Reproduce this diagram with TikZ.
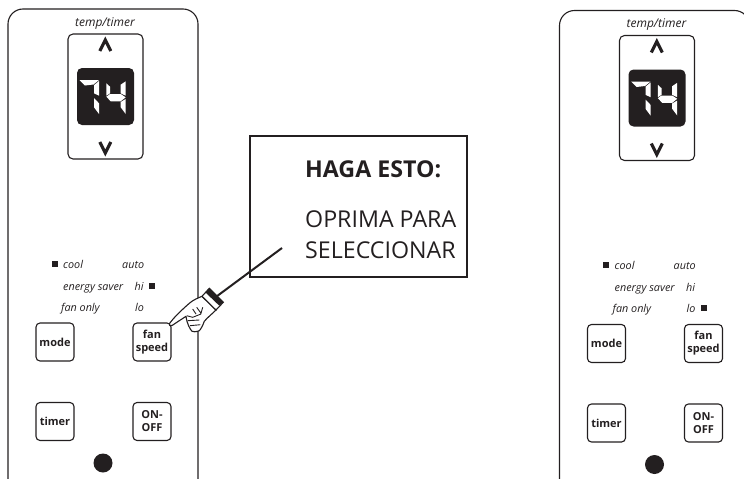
\documentclass[tikz,border=0pt]{standalone}
\usepackage{fontspec}
\setmainfont{Open Sans}
\usetikzlibrary{positioning}
\definecolor{inkblack}{HTML}{231F20}

\tikzset{
  panelline/.style={draw=inkblack, line width=1.1pt},
  keybox/.style={draw=inkblack, line width=1.1pt, rounded corners=4pt, minimum width=38pt, minimum height=38pt,
    inner sep=0pt, align=center, font=\fontsize{11}{13}\selectfont\bfseries, text=inkblack},
  modelabel/.style={anchor=base west, inner sep=0pt, font=\fontsize{10.8}{12}\selectfont\itshape, text=inkblack},
  ledmark/.style={fill=inkblack, minimum size=6pt, inner sep=0pt},
  segment/.style={fill=white},
  notetext/.style={anchor=west, inner sep=0pt, text=inkblack, font=\fontsize{23.2}{25}\selectfont},
}

% one remote control, #1 is the name suffix
\newcommand{\remote}[1]{
  \draw[panelline, rounded corners=15pt] (8,500) -- (8,9) -- (198,9) -- (198,500);
  \node[inner sep=0pt, text=inkblack, font=\fontsize{12}{13}\selectfont\itshape] (temp#1) at (105,23.5) {temp/timer};
  \draw[panelline, rounded corners=5pt] (68,34) rectangle (143,159);
  \fill[inkblack, rounded corners=5pt] (77,68) rectangle (134,125);
  \draw[inkblack, line width=3.2pt] (99.8,51) -- (105.3,40) -- (110.8,51);
  \draw[inkblack, line width=3.2pt] (99.8,142) -- (105.3,153) -- (110.8,142);
  % digit seven
  \fill[segment] (79.5,80) -- (99,80) -- (93.5,84.5) -- (85,85.5) -- cycle;
  \fill[segment] (94,85.2) -- (99,81) -- (99,95.7) -- (94,93.3) -- cycle;
  \fill[segment] (94,98) -- (99,103.3) -- (99,114) -- (94,107.3) -- cycle;
  % digit four
  \fill[segment] (106.3,83.3) -- (110,86.7) -- (110,93.3) -- (106.3,95.7) -- cycle;
  \fill[segment] (120.7,84.7) -- (125.7,81.3) -- (125.7,95.7) -- (120.7,93.3) -- cycle;
  \fill[segment] (106.3,96.7) -- (110,94) -- (120.7,94) -- (125.7,97.3) -- (120.7,101.3) -- (110.7,101.3) -- cycle;
  \fill[segment] (120.7,102) -- (125.7,99) -- (125.7,114) -- (120.7,107.3) -- cycle;
  % mode labels
  \node[modelabel] (cool#1) at (63,268) {cool};
  \node[modelabel] (auto#1) at (122,268) {auto};
  \node[modelabel] (saver#1) at (63,290) {energy saver};
  \node[modelabel] (hi#1) at (134.5,290) {hi};
  \node[modelabel] (only#1) at (61,311) {fan only};
  \node[modelabel] (lo#1) at (135,311) {lo};
  \node[ledmark, left=5pt of cool#1] (ledcool#1) {};
  % keys
  \node[keybox] (mode#1) at (55,342) {mode};
  \node[keybox] (fan#1) at (152,342) {fan\\speed};
  \node[keybox] (timer#1) at (55,421.5) {timer};
  \node[keybox] (onoff#1) at (152,421.5) {ON-\\OFF};
  \node[circle, fill=inkblack, minimum size=19pt, inner sep=0pt] (dot#1) at (103,463) {};
}

\begin{document}
\begin{tikzpicture}[x=1pt, y=-1pt]
\useasboundingbox (0,0) rectangle (744,479);
\clip (0,0) rectangle (744,479);

% left remote
\remote{L}
\node[ledmark, right=5pt of hiL] (ledhi) {};

% right remote
\begin{scope}[shift={(551.5,1.5)}]
\remote{R}
\end{scope}
\node[ledmark, right=5pt of loR] (ledlo) {};

% note box
\node[draw=inkblack, line width=2pt, minimum width=217pt, minimum height=141pt, inner sep=0pt] (note) at (358,206.5) {};
\node[notetext, font=\fontsize{23.2}{25}\selectfont\bfseries] (haga) at (305,169) {HAGA ESTO:};
\node[notetext] (oprima) at (305,219) {OPRIMA PARA};
\node[notetext] (selec) at (305,250) {SELECCIONAR};

% pointer line and hand
\coordinate (lineend) at (282,248);
\coordinate (cuff) at (205,305);
\draw[inkblack, line width=2pt] (cuff) -- (lineend);
\draw[fill=white, draw=inkblack, line width=1.1pt, line join=round]
  (169.5,323.5) .. controls (175,316) and (184,308) .. (189.3,303.3) .. controls (193,300) and (198,298) .. (202,296.3)
  -- (216,310) .. controls (212,314) and (208,317) .. (204.3,321.3) .. controls (203,325) and (201,329) .. (199.3,330.7)
  .. controls (196,332) and (193,332) .. (192,331.3) .. controls (190,329) and (187,324) .. (186,316.3)
  -- (172,325.5) .. controls (170,326.5) and (168.5,325) .. (169.5,323.5) -- cycle;
\draw[inkblack, line width=0.9pt] (186.7,315.7) -- (192.7,317.3) -- (201,314) (187.7,320.7) -- (199.3,320) (190,325.7) -- (200.3,324.7)
  (192.7,309) -- (196,314) (196.7,307.3) -- (201,313.3) -- (202.7,307.3);
\draw[fill=white, draw=inkblack, line width=1.1pt] (202,296.3) -- (209.3,288.3) -- (223.3,302.3) -- (216,310) -- cycle;
\fill[inkblack] (205.3,292.3) -- (209.3,288.3) -- (223.3,302.3) -- (219.3,305.7) -- cycle;
\end{tikzpicture}
\end{document}
